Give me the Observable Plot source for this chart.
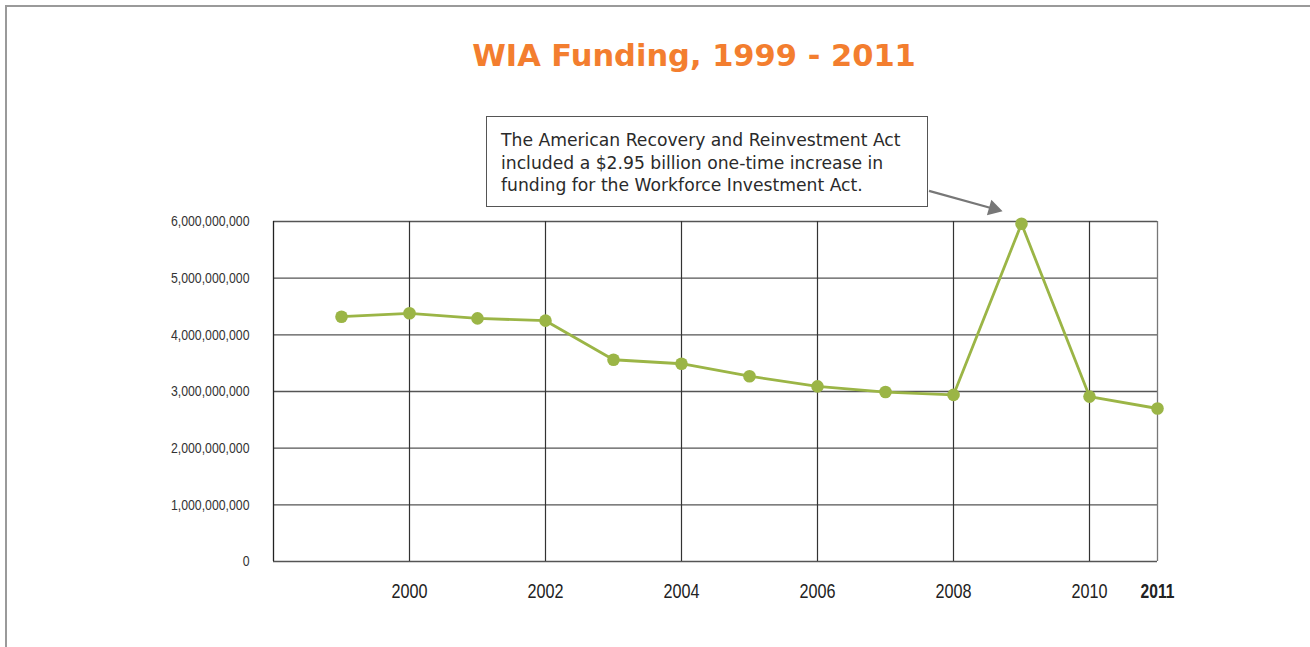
<!DOCTYPE html>
<html>
<head>
<meta charset="utf-8">
<script src="https://cdn.jsdelivr.net/npm/d3@7"></script>
<script src="https://cdn.jsdelivr.net/npm/@observablehq/plot@0.6"></script>
<style>
  html, body { margin: 0; padding: 0; background: #fff; }
  #wrap { position: relative; width: 1310px; height: 647px; overflow: hidden; }
  #border { position: absolute; left: 5px; top: 5px; width: 1400px; height: 700px;
            border-left: 2px solid #9a9a9a; border-top: 2px solid #9a9a9a; box-sizing: border-box; }
  #title { position: absolute; left: 0; width: 1388px; top: 41px; text-align: center;
           font-family: "DejaVu Sans", Verdana, sans-serif; font-weight: bold; font-size: 30.5px;
           color: #F37E2F; line-height: 1; }
  #note { position: absolute; left: 486px; top: 116px; width: 442px; height: 91px; box-sizing: border-box;
          border: 1px solid #555; background: #fff; padding: 12px 0 0 14px; white-space: nowrap;
          font-family: "DejaVu Sans", Verdana, sans-serif; font-size: 17.2px; line-height: 22.5px; color: #2a2a2a; }
  #chart { position: absolute; left: 0; top: 0; }
</style>
</head>
<body>
<div id="wrap">
  <div id="chart"></div>
  <div id="border"></div>
  <div id="title">WIA Funding, 1999 - 2011</div>
  <div id="note">The American Recovery and Reinvestment Act<br>included a $2.95 billion one-time increase in<br>funding for the Workforce Investment Act.</div>
</div>
<script>
const years = [1999, 2000, 2001, 2002, 2003, 2004, 2005, 2006, 2007, 2008, 2009, 2010, 2011];
const funding = [4.32e9, 4.38e9, 4.29e9, 4.25e9, 3.56e9, 3.49e9, 3.27e9, 3.09e9, 2.99e9, 2.94e9, 5.96e9, 2.91e9, 2.70e9];
const xTicks = [2000, 2002, 2004, 2006, 2008, 2010];
const yTicks = [0, 1e9, 2e9, 3e9, 4e9, 5e9, 6e9];
const boldTick = [2011];
// arrow from the note box toward the 2009 peak (start, head centre)
const arrowFrom = {year: 2007.64, value: 6.54e9};
const arrowHead = {year: 2008.59, value: 6.225e9};

const data = years.map((y, i) => ({year: y, value: funding[i]}));
const sans = "'Liberation Sans', Arial, sans-serif";
const green = "#9BB546";

const chart = Plot.plot({
  width: 1310,
  height: 647,
  marginLeft: 273,
  marginRight: 153,
  marginTop: 221,
  marginBottom: 86,
  x: {domain: [1998, 2011], axis: null},
  y: {domain: [0, 6e9], axis: null},
  style: {background: "transparent", overflow: "visible"},
  marks: [
    Plot.ruleY(yTicks, {stroke: "#555", strokeWidth: 1.3}),
    Plot.ruleX(xTicks, {stroke: "#333", strokeWidth: 1.2}),
    Plot.ruleX([1998], {stroke: "#222", strokeWidth: 1.3}),
    Plot.ruleX([2011], {stroke: "#777", strokeWidth: 1.3}),
    Plot.axisY({ticks: yTicks, tickSize: 0, tickPadding: 24, tickFormat: d3.format(","),
      fontSize: 15, fontFamily: sans, fill: "#333", className: "ylab"}),
    Plot.axisX({ticks: xTicks, tickSize: 0, tickPadding: 22, tickFormat: d => String(d),
      fontSize: 20, fontFamily: sans, fill: "#222", className: "xlab"}),
    Plot.text(boldTick, {x: d => d, y: 0, text: d => String(d), dy: 30, fontSize: 20,
      fontWeight: "bold", fontFamily: sans, fill: "#222", className: "xbold"}),
    Plot.line(data, {x: "year", y: "value", stroke: green, strokeWidth: 2.8}),
    Plot.dot(data, {x: "year", y: "value", r: 6.3, fill: green, stroke: "none"}),
    Plot.link([{x1: arrowFrom.year, y1: arrowFrom.value, x2: arrowHead.year, y2: arrowHead.value}],
      {x1: "x1", y1: "y1", x2: "x2", y2: "y2", stroke: "#777", strokeWidth: 2.2, clip: false}),
    Plot.dot([arrowHead], {x: "year", y: "value", symbol: "triangle", r: 6, rotate: 106,
      fill: "#777", stroke: "none", clip: false})
  ]
});
// condense the axis tick labels horizontally (the original uses a narrow face)
const condense = (sel, k) => d3.select(chart).selectAll(sel).each(function() {
  const t = this.getAttribute("transform") || "";
  this.setAttribute("transform", t + ` scale(${k},1)`);
});
condense(".ylab text", 0.82);
condense(".xlab text", 0.81);
condense(".xbold text", 0.78);
document.getElementById("chart").appendChild(chart);
</script>
</body>
</html>
